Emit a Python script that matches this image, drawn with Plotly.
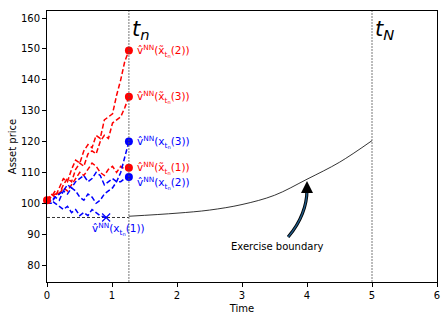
import plotly.graph_objects as go

# time grid of the simulated paths up to t_n
t_grid = [0.0, 0.063, 0.126, 0.189, 0.252, 0.315, 0.378, 0.441, 0.504, 0.567, 0.63,
          0.693, 0.756, 0.819, 0.882, 0.945, 1.008, 1.071, 1.134, 1.197, 1.26]
t_x1 = [0.0, 0.063, 0.126, 0.189, 0.252, 0.315, 0.378, 0.441, 0.504, 0.567, 0.63,
        0.693, 0.756, 0.819, 0.882, 0.91]

# red paths (x tilde)
red_2 = [101, 103, 102, 105, 108, 107, 111, 114, 113, 117, 119, 118, 122, 121, 127, 128, 129, 135, 140, 146, 149.5]
red_3 = [101, 102, 104, 103, 106, 108, 107, 111, 113, 112, 116, 117, 116, 120, 122, 121, 126, 127, 128, 131, 134.5]
red_1 = [101, 102, 103, 103, 105, 104, 106, 108, 110, 109, 111, 113, 112, 110, 109, 111, 112, 110, 112, 111, 111.5]

# blue paths (x)
blue_3 = [100, 101, 102, 101, 104, 103, 105, 104, 102, 101, 103, 102, 100, 101, 103, 104, 105, 107, 110, 115, 120]
blue_2 = [100, 100, 102, 103, 104, 106, 105, 107, 108, 109, 107, 108, 110, 109, 106, 107, 108, 107, 107, 108, 108.5]
blue_1 = [100, 101, 100, 99, 98, 99, 97, 98, 96, 97, 96, 98, 97, 96, 95.5, 95.4]

# exercise boundary
t_bound = [1.26, 2.0, 2.5, 3.0, 3.5, 4.0, 4.5, 5.0]
bound = [95.8, 96.8, 97.8, 99.6, 102.6, 107.8, 113.3, 120.3]
strike_level = 95.4
t_n = 1.26
t_N = 5.0

RED = "#ff0000"
BLUE = "#0000ff"
dash = "5px,2.5px"

fig = go.Figure()

# boundary and strike line
fig.add_trace(go.Scatter(x=[0, t_n], y=[strike_level, strike_level], mode="lines",
                         line=dict(color="black", width=0.8, dash="3px,2px")))
fig.add_trace(go.Scatter(x=t_bound, y=bound, mode="lines", line=dict(color="black", width=0.8),
                         line_shape="spline"))

for ys in [red_2, red_3, red_1]:
    fig.add_trace(go.Scatter(x=t_grid, y=ys, mode="lines", line=dict(color=RED, width=1.5, dash=dash)))
for ys in [blue_3, blue_2]:
    fig.add_trace(go.Scatter(x=t_grid, y=ys, mode="lines", line=dict(color=BLUE, width=1.5, dash=dash)))
fig.add_trace(go.Scatter(x=t_x1, y=blue_1, mode="lines", line=dict(color=BLUE, width=1.5, dash=dash)))

# end points
fig.add_trace(go.Scatter(x=[t_n] * 3, y=[red_2[-1], red_3[-1], red_1[-1]], mode="markers",
                         marker=dict(color=RED, size=8)))
fig.add_trace(go.Scatter(x=[t_n] * 2, y=[blue_3[-1], blue_2[-1]], mode="markers",
                         marker=dict(color=BLUE, size=8)))
fig.add_trace(go.Scatter(x=[t_x1[-1]], y=[blue_1[-1]], mode="markers",
                         marker=dict(color=BLUE, size=8, symbol="x-thin", line=dict(color=BLUE, width=1.2))))
fig.add_trace(go.Scatter(x=[0], y=[red_2[0]], mode="markers",
                         marker=dict(color=RED, size=8), cliponaxis=False))

# vertical markers t_n, t_N
for tv in [t_n, t_N]:
    fig.add_shape(type="line", x0=tv, x1=tv, y0=0, y1=1, yref="paper",
                  line=dict(color="#555555", width=0.8, dash="2px,1px"))

big = dict(family="DejaVu Sans", size=21, color="black")
fig.add_annotation(x=t_n + 0.02, y=156.2, text="<i>t<sub>n</sub></i>", showarrow=False,
                   xanchor="left", font=big)
fig.add_annotation(x=t_N + 0.02, y=156.2, text="<i>t<sub>N</sub></i>", showarrow=False,
                   xanchor="left", font=big)

lab = dict(family="DejaVu Sans", size=10.5)
def vlab(x, y, idx, tilde, color, anchor="left"):
    xs = "x̃" if tilde else "x"
    txt = "v̂<sup>NN</sup>(" + xs + "<sub>t<sub>n</sub></sub>(" + idx + "))"
    fig.add_annotation(x=x, y=y, text=txt, showarrow=False, xanchor=anchor,
                       font=dict(lab, color=color))

vlab(1.36, red_2[-1], "2", True, RED)
vlab(1.36, red_3[-1], "3", True, RED)
vlab(1.36, red_1[-1], "1", True, RED)
vlab(1.36, blue_3[-1], "3", False, BLUE)
vlab(1.36, blue_2[-1] - 1.8, "2", False, BLUE)
vlab(0.66, 91.8, "1", False, BLUE)

# exercise boundary label with curved arrow
fig.add_annotation(x=3.55, y=86.0, text="Exercise boundary", showarrow=False,
                   font=dict(family="DejaVu Sans", size=10, color="black"))
arrow_path = "M 3.71 89.1 Q 4.0 96.4 4.0 104.5"
fig.add_shape(type="path", path=arrow_path, line=dict(color="black", width=3.2))
fig.add_shape(type="path", path=arrow_path, line=dict(color="#1f5a87", width=1.4))
fig.add_annotation(x=4.0, y=107.2, ax=4.0, ay=104.0, axref="x", ayref="y", xref="x", yref="y",
                   text="", showarrow=True, arrowhead=2, arrowsize=1.2, arrowwidth=2,
                   arrowcolor="black", standoff=0)

axis_common = dict(showline=True, linecolor="black", linewidth=1, mirror=True,
                   ticks="outside", ticklen=4, tickcolor="black", showgrid=False,
                   zeroline=False, automargin=False,
                   tickfont=dict(family="DejaVu Sans", size=10, color="black"),
                   title_font=dict(family="DejaVu Sans", size=10, color="black"))
fig.update_xaxes(range=[0, 6], dtick=1, title_text="Time", title_standoff=4, **axis_common)
fig.update_yaxes(range=[74.5, 162.3], dtick=10, title_text="Asset price", title_standoff=2, **axis_common)

fig.update_layout(width=448, height=320, margin=dict(l=47, r=11, t=11, b=38),
                  plot_bgcolor="white", paper_bgcolor="white", showlegend=False,
                  font=dict(family="DejaVu Sans", size=10, color="black"))

fig.write_html("out.html", config={"displayModeBar": False},
               post_script="document.body.style.margin='0px';")
